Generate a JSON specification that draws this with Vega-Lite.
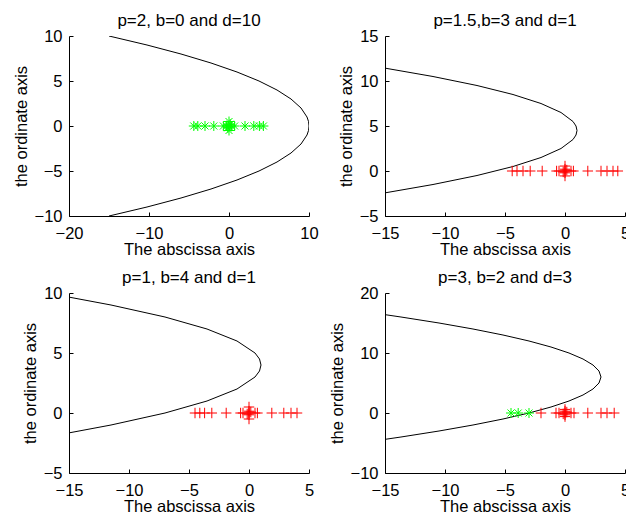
{
  "$schema": "https://vega.github.io/schema/vega-lite/v6.json",
  "padding": {"left": 13, "top": 11, "right": 0, "bottom": 0},
  "config": {
    "font": "Liberation Sans",
    "view": {"stroke": null},
    "axis": {
      "grid": false,
      "domainColor": "black",
      "tickColor": "black",
      "labelColor": "black",
      "titleColor": "black",
      "labelFontSize": 16.5,
      "titleFontSize": 16.5,
      "titleFontWeight": "normal",
      "tickSize": -4,
      "labelFlush": false,
      "labelOverlap": false
    },
    "axisX": {"titlePadding": 0, "labelPadding": 13},
    "axisY": {"titlePadding": 5, "labelPadding": 11},
    "title": {"fontSize": 17, "fontWeight": "normal", "color": "black", "offset": -1.5}
  },
  "datasets": {
    "curves": [
      {"panel": 1, "x": -15, "y": -10}, {"panel": 1, "x": -10.25, "y": -9}, {"panel": 1, "x": -6, "y": -8}, {"panel": 1, "x": -2.25, "y": -7}, {"panel": 1, "x": 1, "y": -6}, {"panel": 1, "x": 3.75, "y": -5}, {"panel": 1, "x": 6, "y": -4}, {"panel": 1, "x": 7.75, "y": -3}, {"panel": 1, "x": 9, "y": -2}, {"panel": 1, "x": 9.75, "y": -1}, {"panel": 1, "x": 9.94, "y": -0.5}, {"panel": 1, "x": 10, "y": 0}, {"panel": 1, "x": 9.94, "y": 0.5}, {"panel": 1, "x": 9.75, "y": 1}, {"panel": 1, "x": 9, "y": 2}, {"panel": 1, "x": 7.75, "y": 3}, {"panel": 1, "x": 6, "y": 4}, {"panel": 1, "x": 3.75, "y": 5}, {"panel": 1, "x": 1, "y": 6}, {"panel": 1, "x": -2.25, "y": 7}, {"panel": 1, "x": -6, "y": 8}, {"panel": 1, "x": -10.25, "y": 9}, {"panel": 1, "x": -15, "y": 10},
      {"panel": 2, "x": -15, "y": -2.43}, {"panel": 2, "x": -11, "y": -1.5}, {"panel": 2, "x": -7.333, "y": -0.5}, {"panel": 2, "x": -4.333, "y": 0.5}, {"panel": 2, "x": -2, "y": 1.5}, {"panel": 2, "x": -0.333, "y": 2.5}, {"panel": 2, "x": 0.667, "y": 3.5}, {"panel": 2, "x": 0.917, "y": 4}, {"panel": 2, "x": 1, "y": 4.5}, {"panel": 2, "x": 0.917, "y": 5}, {"panel": 2, "x": 0.667, "y": 5.5}, {"panel": 2, "x": -0.333, "y": 6.5}, {"panel": 2, "x": -2, "y": 7.5}, {"panel": 2, "x": -4.333, "y": 8.5}, {"panel": 2, "x": -7.333, "y": 9.5}, {"panel": 2, "x": -11, "y": 10.5}, {"panel": 2, "x": -15, "y": 11.43},
      {"panel": 3, "x": -15, "y": -1.657}, {"panel": 3, "x": -11.5, "y": -1}, {"panel": 3, "x": -7, "y": 0}, {"panel": 3, "x": -3.5, "y": 1}, {"panel": 3, "x": -1, "y": 2}, {"panel": 3, "x": 0.5, "y": 3}, {"panel": 3, "x": 0.875, "y": 3.5}, {"panel": 3, "x": 1, "y": 4}, {"panel": 3, "x": 0.875, "y": 4.5}, {"panel": 3, "x": 0.5, "y": 5}, {"panel": 3, "x": -1, "y": 6}, {"panel": 3, "x": -3.5, "y": 7}, {"panel": 3, "x": -7, "y": 8}, {"panel": 3, "x": -11.5, "y": 9}, {"panel": 3, "x": -15, "y": 9.657},
      {"panel": 4, "x": -15, "y": -4.392}, {"panel": 4, "x": -13.667, "y": -4}, {"panel": 4, "x": -10.5, "y": -3}, {"panel": 4, "x": -7.667, "y": -2}, {"panel": 4, "x": -5.167, "y": -1}, {"panel": 4, "x": -3, "y": 0}, {"panel": 4, "x": -1.167, "y": 1}, {"panel": 4, "x": 0.333, "y": 2}, {"panel": 4, "x": 1.5, "y": 3}, {"panel": 4, "x": 2.333, "y": 4}, {"panel": 4, "x": 2.833, "y": 5}, {"panel": 4, "x": 3, "y": 6}, {"panel": 4, "x": 2.833, "y": 7}, {"panel": 4, "x": 2.333, "y": 8}, {"panel": 4, "x": 1.5, "y": 9}, {"panel": 4, "x": 0.333, "y": 10}, {"panel": 4, "x": -1.167, "y": 11}, {"panel": 4, "x": -3, "y": 12}, {"panel": 4, "x": -5.167, "y": 13}, {"panel": 4, "x": -7.667, "y": 14}, {"panel": 4, "x": -10.5, "y": 15}, {"panel": 4, "x": -13.667, "y": 16}, {"panel": 4, "x": -15, "y": 16.392}
    ],
    "points": [
      {"panel": 1, "x": -4.4, "y": 0, "kind": "out"}, {"panel": 1, "x": -3.9, "y": 0, "kind": "out"}, {"panel": 1, "x": -3, "y": 0, "kind": "out"}, {"panel": 1, "x": -1.9, "y": 0, "kind": "out"}, {"panel": 1, "x": -0.7, "y": 0, "kind": "out"}, {"panel": 1, "x": 0, "y": 0, "kind": "out"}, {"panel": 1, "x": 0, "y": 0.5, "kind": "out"}, {"panel": 1, "x": 0, "y": -0.5, "kind": "out"}, {"panel": 1, "x": 0.3, "y": 0, "kind": "out"}, {"panel": 1, "x": -0.3, "y": 0, "kind": "out"}, {"panel": 1, "x": 0.15, "y": 0.2, "kind": "out"}, {"panel": 1, "x": -0.15, "y": -0.2, "kind": "out"}, {"panel": 1, "x": 0.7, "y": 0, "kind": "out"}, {"panel": 1, "x": 2, "y": 0, "kind": "out"}, {"panel": 1, "x": 3.1, "y": 0, "kind": "out"}, {"panel": 1, "x": 3.8, "y": 0, "kind": "out"}, {"panel": 1, "x": 4.3, "y": 0, "kind": "out"},
      {"panel": 2, "x": -4.4, "y": 0, "kind": "in"}, {"panel": 2, "x": -4, "y": 0, "kind": "in"}, {"panel": 2, "x": -3.5, "y": 0, "kind": "in"}, {"panel": 2, "x": -2.9, "y": 0, "kind": "in"}, {"panel": 2, "x": -1.9, "y": 0, "kind": "in"}, {"panel": 2, "x": -0.7, "y": 0, "kind": "in"}, {"panel": 2, "x": 0, "y": 0, "kind": "in"}, {"panel": 2, "x": 0, "y": 0.55, "kind": "in"}, {"panel": 2, "x": 0, "y": -0.55, "kind": "in"}, {"panel": 2, "x": 0.5, "y": 0, "kind": "in"}, {"panel": 2, "x": -0.5, "y": 0, "kind": "in"}, {"panel": 2, "x": 0, "y": 0.2, "kind": "in"}, {"panel": 2, "x": 0, "y": -0.2, "kind": "in"}, {"panel": 2, "x": 0.15, "y": 0.1, "kind": "in"}, {"panel": 2, "x": -0.15, "y": -0.1, "kind": "in"}, {"panel": 2, "x": 0.7, "y": 0, "kind": "in"}, {"panel": 2, "x": 1.9, "y": 0, "kind": "in"}, {"panel": 2, "x": 3, "y": 0, "kind": "in"}, {"panel": 2, "x": 3.5, "y": 0, "kind": "in"}, {"panel": 2, "x": 4, "y": 0, "kind": "in"}, {"panel": 2, "x": 4.4, "y": 0, "kind": "in"},
      {"panel": 3, "x": -4.5, "y": 0, "kind": "in"}, {"panel": 3, "x": -4.1, "y": 0, "kind": "in"}, {"panel": 3, "x": -3.7, "y": 0, "kind": "in"}, {"panel": 3, "x": -3.1, "y": 0, "kind": "in"}, {"panel": 3, "x": -1.9, "y": 0, "kind": "in"}, {"panel": 3, "x": -0.7, "y": 0, "kind": "in"}, {"panel": 3, "x": 0, "y": 0, "kind": "in"}, {"panel": 3, "x": 0, "y": 0.5, "kind": "in"}, {"panel": 3, "x": 0, "y": -0.5, "kind": "in"}, {"panel": 3, "x": 0.5, "y": 0, "kind": "in"}, {"panel": 3, "x": -0.5, "y": 0, "kind": "in"}, {"panel": 3, "x": 0, "y": 0.15, "kind": "in"}, {"panel": 3, "x": 0, "y": -0.15, "kind": "in"}, {"panel": 3, "x": 0.15, "y": 0.08, "kind": "in"}, {"panel": 3, "x": -0.15, "y": -0.08, "kind": "in"}, {"panel": 3, "x": 0.7, "y": 0, "kind": "in"}, {"panel": 3, "x": 1.9, "y": 0, "kind": "in"}, {"panel": 3, "x": 2.9, "y": 0, "kind": "in"}, {"panel": 3, "x": 3.5, "y": 0, "kind": "in"}, {"panel": 3, "x": 4, "y": 0, "kind": "in"},
      {"panel": 4, "x": -4.5, "y": 0, "kind": "out"}, {"panel": 4, "x": -3.9, "y": 0, "kind": "out"}, {"panel": 4, "x": -3, "y": 0, "kind": "out"}, {"panel": 4, "x": -2, "y": 0, "kind": "in"}, {"panel": 4, "x": -0.75, "y": 0, "kind": "in"}, {"panel": 4, "x": 0, "y": 0, "kind": "in"}, {"panel": 4, "x": 0, "y": 0.6, "kind": "in"}, {"panel": 4, "x": 0, "y": -0.6, "kind": "in"}, {"panel": 4, "x": 0.5, "y": 0, "kind": "in"}, {"panel": 4, "x": -0.5, "y": 0, "kind": "in"}, {"panel": 4, "x": 0, "y": 0.3, "kind": "in"}, {"panel": 4, "x": 0, "y": -0.3, "kind": "in"}, {"panel": 4, "x": 0.15, "y": 0.15, "kind": "in"}, {"panel": 4, "x": -0.15, "y": -0.15, "kind": "in"}, {"panel": 4, "x": 0.75, "y": 0, "kind": "in"}, {"panel": 4, "x": 1.9, "y": 0, "kind": "in"}, {"panel": 4, "x": 3, "y": 0, "kind": "in"}, {"panel": 4, "x": 3.5, "y": 0, "kind": "in"}, {"panel": 4, "x": 4.1, "y": 0, "kind": "in"}
    ]
  },
  "columns": 2,
  "bounds": "flush",
  "spacing": {"column": 76, "row": 77},
  "concat": [
    {
      "title": "p=2, b=0 and d=10",
      "width": 240, "height": 180,
      "layer": [
        {"data": {"name": "curves"}, "transform": [{"filter": "datum.panel == 1"}], "mark": {"type": "line", "color": "black", "strokeWidth": 1, "clip": true},
         "encoding": {"x": {"field": "x", "type": "quantitative", "scale": {"domain": [-20, 10], "nice": false, "zero": false}, "axis": {"values": [-20, -10, 0, 10], "title": "The abscissa axis"}},
                      "y": {"field": "y", "type": "quantitative", "scale": {"domain": [-10, 10], "nice": false, "zero": false}, "axis": {"values": [-10, -5, 0, 5, 10], "title": "the ordinate axis"}},
                      "order": {"field": "y", "type": "quantitative"}}},
        {"data": {"name": "points"}, "transform": [{"filter": "datum.panel == 1 && datum.kind == 'out'"}], "mark": {"type": "point", "shape": "M-1,0L1,0M0,-1L0,1M-0.7,-0.7L0.7,0.7M-0.7,0.7L0.7,-0.7", "filled": false, "color": "#00ff00", "strokeWidth": 1, "size": 100, "opacity": 1},
         "encoding": {"x": {"field": "x", "type": "quantitative"}, "y": {"field": "y", "type": "quantitative"}}}
      ]
    },
    {
      "title": "p=1.5,b=3 and d=1",
      "width": 240, "height": 180,
      "layer": [
        {"data": {"name": "curves"}, "transform": [{"filter": "datum.panel == 2"}], "mark": {"type": "line", "color": "black", "strokeWidth": 1, "clip": true},
         "encoding": {"x": {"field": "x", "type": "quantitative", "scale": {"domain": [-15, 5], "nice": false, "zero": false}, "axis": {"values": [-15, -10, -5, 0, 5], "title": "The abscissa axis"}},
                      "y": {"field": "y", "type": "quantitative", "scale": {"domain": [-5, 15], "nice": false, "zero": false}, "axis": {"values": [-5, 0, 5, 10, 15], "title": "the ordinate axis"}},
                      "order": {"field": "y", "type": "quantitative"}}},
        {"data": {"name": "points"}, "transform": [{"filter": "datum.panel == 2 && datum.kind == 'in'"}], "mark": {"type": "point", "shape": "M-1,0L1,0M0,-1L0,1", "filled": false, "color": "#ff0000", "strokeWidth": 1, "size": 110, "opacity": 1},
         "encoding": {"x": {"field": "x", "type": "quantitative"}, "y": {"field": "y", "type": "quantitative"}}}
      ]
    },
    {
      "title": "p=1, b=4 and d=1",
      "width": 240, "height": 180,
      "layer": [
        {"data": {"name": "curves"}, "transform": [{"filter": "datum.panel == 3"}], "mark": {"type": "line", "color": "black", "strokeWidth": 1, "clip": true},
         "encoding": {"x": {"field": "x", "type": "quantitative", "scale": {"domain": [-15, 5], "nice": false, "zero": false}, "axis": {"values": [-15, -10, -5, 0, 5], "title": "The abscissa axis"}},
                      "y": {"field": "y", "type": "quantitative", "scale": {"domain": [-5, 10], "nice": false, "zero": false}, "axis": {"values": [-5, 0, 5, 10], "title": "the ordinate axis"}},
                      "order": {"field": "y", "type": "quantitative"}}},
        {"data": {"name": "points"}, "transform": [{"filter": "datum.panel == 3 && datum.kind == 'in'"}], "mark": {"type": "point", "shape": "M-1,0L1,0M0,-1L0,1", "filled": false, "color": "#ff0000", "strokeWidth": 1, "size": 110, "opacity": 1},
         "encoding": {"x": {"field": "x", "type": "quantitative"}, "y": {"field": "y", "type": "quantitative"}}}
      ]
    },
    {
      "title": "p=3, b=2 and d=3",
      "width": 240, "height": 180,
      "layer": [
        {"data": {"name": "curves"}, "transform": [{"filter": "datum.panel == 4"}], "mark": {"type": "line", "color": "black", "strokeWidth": 1, "clip": true},
         "encoding": {"x": {"field": "x", "type": "quantitative", "scale": {"domain": [-15, 5], "nice": false, "zero": false}, "axis": {"values": [-15, -10, -5, 0, 5], "title": "The abscissa axis"}},
                      "y": {"field": "y", "type": "quantitative", "scale": {"domain": [-10, 20], "nice": false, "zero": false}, "axis": {"values": [-10, 0, 10, 20], "title": "the ordinate axis"}},
                      "order": {"field": "y", "type": "quantitative"}}},
        {"data": {"name": "points"}, "transform": [{"filter": "datum.panel == 4 && datum.kind == 'in'"}], "mark": {"type": "point", "shape": "M-1,0L1,0M0,-1L0,1", "filled": false, "color": "#ff0000", "strokeWidth": 1, "size": 110, "opacity": 1},
         "encoding": {"x": {"field": "x", "type": "quantitative"}, "y": {"field": "y", "type": "quantitative"}}},
        {"data": {"name": "points"}, "transform": [{"filter": "datum.panel == 4 && datum.kind == 'out'"}], "mark": {"type": "point", "shape": "M-1,0L1,0M0,-1L0,1M-0.7,-0.7L0.7,0.7M-0.7,0.7L0.7,-0.7", "filled": false, "color": "#00ff00", "strokeWidth": 1, "size": 100, "opacity": 1},
         "encoding": {"x": {"field": "x", "type": "quantitative"}, "y": {"field": "y", "type": "quantitative"}}}
      ]
    }
  ]
}
